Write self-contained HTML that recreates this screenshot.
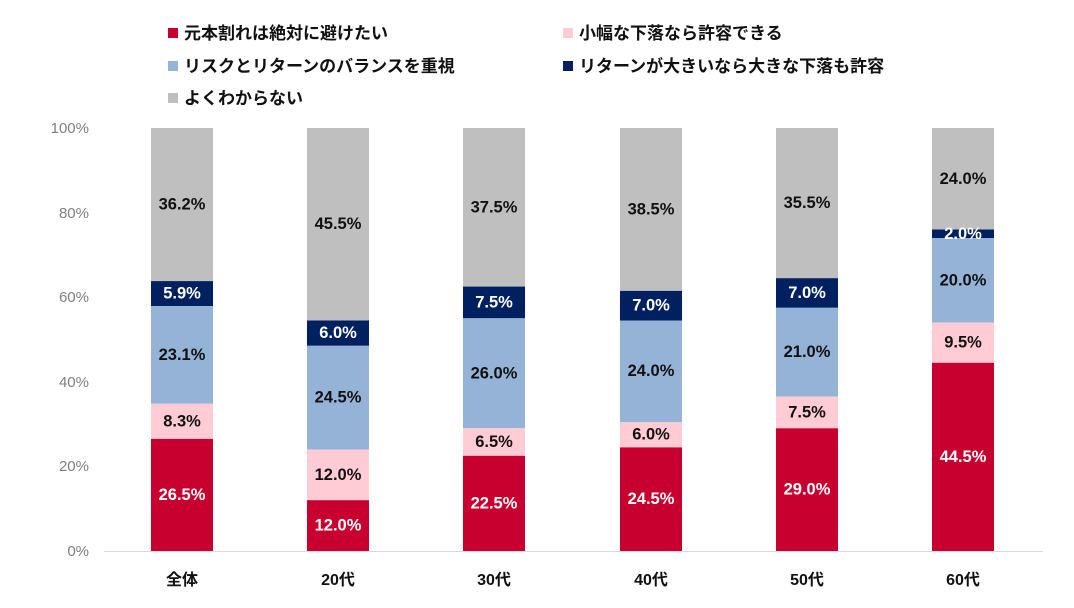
<!DOCTYPE html>
<html><head><meta charset="utf-8"><style>
html,body{margin:0;padding:0;background:#fff;}
svg{display:block;font-family:"Liberation Sans","Noto Sans CJK JP",sans-serif;}
.lg{font-size:17px;font-weight:bold;fill:#111;}
.ax{font-size:15px;fill:#7f7f7f;}
.v{font-size:16.5px;font-weight:bold;text-anchor:middle;dominant-baseline:central;}
.w{fill:#fff}.b{fill:#111}
.x{font-size:16px;font-weight:bold;text-anchor:middle;fill:#111;}
</style></head><body>
<svg width="1074" height="608" viewBox="0 0 1074 608">
<rect x="168" y="28" width="10" height="10" fill="#C8002F"/><text class="lg" x="184" y="39">元本割れは絶対に避けたい</text>
<rect x="563" y="28" width="10" height="10" fill="#FFCCD5"/><text class="lg" x="579" y="39">小幅な下落なら許容できる</text>
<rect x="168" y="61" width="10" height="10" fill="#95B3D7"/><text class="lg" x="184" y="72">リスクとリターンのバランスを重視</text>
<rect x="563" y="61" width="10" height="10" fill="#002060"/><text class="lg" x="579" y="72">リターンが大きいなら大きな下落も許容</text>
<rect x="168" y="93" width="10" height="10" fill="#BFBFBF"/><text class="lg" x="184" y="104">よくわからない</text>
<g class="ax" text-anchor="end">
<text x="89" y="133">100%</text><text x="89" y="218">80%</text><text x="89" y="302">60%</text><text x="89" y="387">40%</text><text x="89" y="471">20%</text><text x="89" y="556">0%</text>
</g>
<g transform="translate(151,0)">
<rect x="0" y="128" width="62" height="153.1" fill="#BFBFBF"/>
<rect x="0" y="281.1" width="62" height="25" fill="#002060"/>
<rect x="0" y="306.1" width="62" height="97.7" fill="#95B3D7"/>
<rect x="0" y="403.8" width="62" height="35.1" fill="#FFCCD5"/>
<rect x="0" y="438.9" width="62" height="112.1" fill="#C8002F"/>
<text class="v b" x="31" y="204.5">36.2%</text><text class="v w" x="31" y="293.6">5.9%</text><text class="v b" x="31" y="355">23.1%</text><text class="v b" x="31" y="421.4">8.3%</text><text class="v w" x="31" y="495">26.5%</text>
</g>
<g transform="translate(307,0)">
<rect x="0" y="128" width="62" height="192.5" fill="#BFBFBF"/>
<rect x="0" y="320.5" width="62" height="25.3" fill="#002060"/>
<rect x="0" y="345.8" width="62" height="103.7" fill="#95B3D7"/>
<rect x="0" y="449.5" width="62" height="50.7" fill="#FFCCD5"/>
<rect x="0" y="500.2" width="62" height="50.8" fill="#C8002F"/>
<text class="v b" x="31" y="224">45.5%</text><text class="v w" x="31" y="333">6.0%</text><text class="v b" x="31" y="397.6">24.5%</text><text class="v b" x="31" y="475">12.0%</text><text class="v w" x="31" y="525.6">12.0%</text>
</g>
<g transform="translate(463,0)">
<rect x="0" y="128" width="62" height="158.6" fill="#BFBFBF"/>
<rect x="0" y="286.6" width="62" height="31.7" fill="#002060"/>
<rect x="0" y="318.3" width="62" height="110" fill="#95B3D7"/>
<rect x="0" y="428.3" width="62" height="27.5" fill="#FFCCD5"/>
<rect x="0" y="455.8" width="62" height="95.2" fill="#C8002F"/>
<text class="v b" x="31" y="207.3">37.5%</text><text class="v w" x="31" y="302.4">7.5%</text><text class="v b" x="31" y="373.3">26.0%</text><text class="v b" x="31" y="442">6.5%</text><text class="v w" x="31" y="503.4">22.5%</text>
</g>
<g transform="translate(620,0)">
<rect x="0" y="128" width="62" height="162.9" fill="#BFBFBF"/>
<rect x="0" y="290.9" width="62" height="29.6" fill="#002060"/>
<rect x="0" y="320.5" width="62" height="101.5" fill="#95B3D7"/>
<rect x="0" y="422" width="62" height="25.4" fill="#FFCCD5"/>
<rect x="0" y="447.4" width="62" height="103.6" fill="#C8002F"/>
<text class="v b" x="31" y="209.5">38.5%</text><text class="v w" x="31" y="305.7">7.0%</text><text class="v b" x="31" y="371.2">24.0%</text><text class="v b" x="31" y="434.7">6.0%</text><text class="v w" x="31" y="499.2">24.5%</text>
</g>
<g transform="translate(776,0)">
<rect x="0" y="128" width="62" height="150.2" fill="#BFBFBF"/>
<rect x="0" y="278.2" width="62" height="29.6" fill="#002060"/>
<rect x="0" y="307.8" width="62" height="88.8" fill="#95B3D7"/>
<rect x="0" y="396.6" width="62" height="31.7" fill="#FFCCD5"/>
<rect x="0" y="428.3" width="62" height="122.7" fill="#C8002F"/>
<text class="v b" x="31" y="203">35.5%</text><text class="v w" x="31" y="293">7.0%</text><text class="v b" x="31" y="352.2">21.0%</text><text class="v b" x="31" y="412.4">7.5%</text><text class="v w" x="31" y="489.6">29.0%</text>
</g>
<g transform="translate(932,0)">
<rect x="0" y="128" width="62" height="101.5" fill="#BFBFBF"/>
<rect x="0" y="229.5" width="62" height="8.5" fill="#002060"/>
<rect x="0" y="238" width="62" height="84.6" fill="#95B3D7"/>
<rect x="0" y="322.6" width="62" height="40.2" fill="#FFCCD5"/>
<rect x="0" y="362.8" width="62" height="188.2" fill="#C8002F"/>
<text class="v b" x="31" y="179">24.0%</text><text class="v w" x="31" y="234">2.0%</text><text class="v b" x="31" y="280.3">20.0%</text><text class="v b" x="31" y="342.7">9.5%</text><text class="v w" x="31" y="457">44.5%</text>
</g>
<line x1="104" y1="551.5" x2="1043" y2="551.5" stroke="#d9d9d9" stroke-width="1"/>
<text class="x" x="182" y="585">全体</text><text class="x" x="338" y="585">20代</text><text class="x" x="494" y="585">30代</text><text class="x" x="651" y="585">40代</text><text class="x" x="807" y="585">50代</text><text class="x" x="963" y="585">60代</text>
</svg>
</body></html>
